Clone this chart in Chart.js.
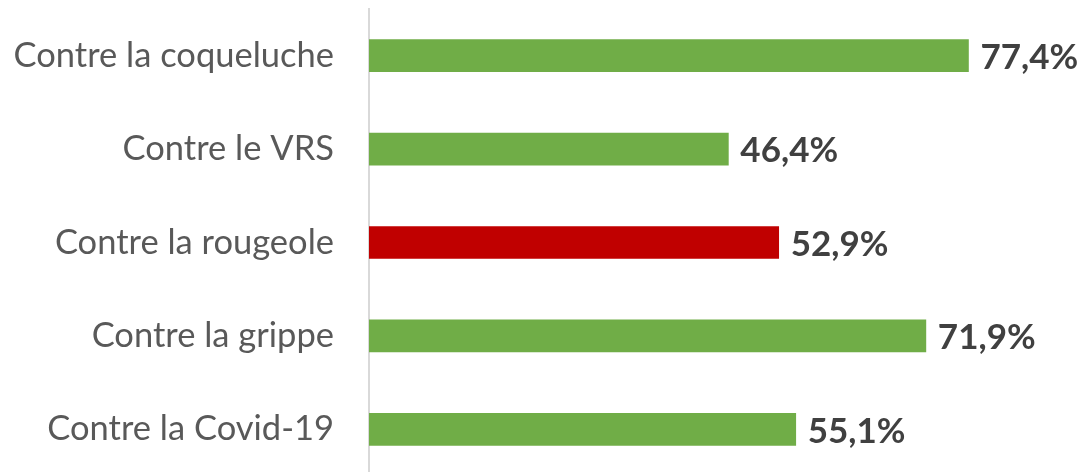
<!DOCTYPE html>
<html>
<head>
<meta charset="utf-8">
<script src="https://cdn.jsdelivr.net/npm/chart.js@4"></script>
<style>
  html, body { margin: 0; padding: 0; background: #fff; overflow: hidden; }
  canvas { display: block; }
</style>
</head>
<body>
<canvas id="vaxChart" width="1080" height="476"></canvas>
<script>
const categories = ["Contre la coqueluche", "Contre le VRS", "Contre la rougeole", "Contre la grippe", "Contre la Covid-19"];
const values = [77.4, 46.4, 52.9, 71.9, 55.1];
const barColors = ["#70AD47", "#70AD47", "#C00000", "#70AD47", "#70AD47"];

const fontName = "Lato, 'Open Sans', sans-serif";

// value labels at the end of each bar
const valueLabels = {
  id: 'valueLabels',
  afterDatasetsDraw(chart) {
    const ctx = chart.ctx;
    const meta = chart.getDatasetMeta(0);
    ctx.save();
    ctx.font = "bold 35px " + fontName;
    ctx.fillStyle = "#404040";
    ctx.textAlign = "left";
    ctx.textBaseline = "middle";
    meta.data.forEach((bar, i) => {
      const txt = values[i].toFixed(1).replace('.', ',') + '%';
      ctx.fillText(txt, bar.x + 12, bar.y + 2);
    });
    ctx.restore();
  }
};

const ctx = document.getElementById('vaxChart').getContext('2d');
new Chart(ctx, {
  type: 'bar',
  data: {
    labels: categories,
    datasets: [{
      data: values,
      backgroundColor: barColors,
      barThickness: 32
    }]
  },
  options: {
    indexAxis: 'y',
    responsive: false,
    animation: false,
    devicePixelRatio: 1,
    layout: { padding: { top: 9, right: 0, bottom: 0, left: 0 } },
    plugins: {
      legend: { display: false },
      tooltip: { enabled: false }
    },
    scales: {
      x: {
        display: false,
        min: 0,
        max: 91.8
      },
      y: {
        grid: { display: false, drawTicks: false },
        border: { display: true, color: "#d9d9d9", width: 2 },
        ticks: {
          color: "#595959",
          font: { family: fontName, size: 34.5 },
          padding: 35
        },
        afterFit(scale) {
          scale.width = 369;
          scale.paddingTop = 0;
          scale.paddingBottom = 0;
        }
      }
    }
  },
  plugins: [valueLabels]
});
</script>
</body>
</html>
